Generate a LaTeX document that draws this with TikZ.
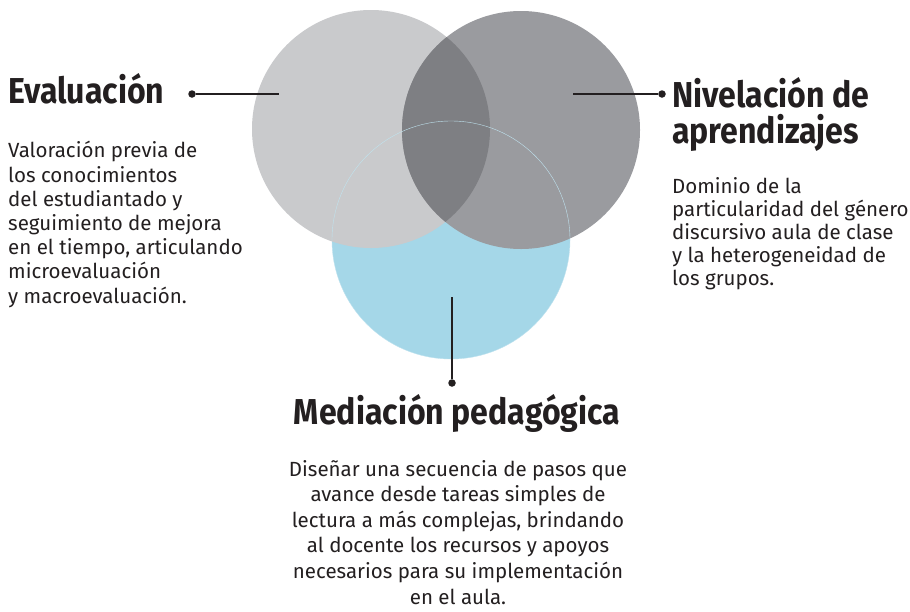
\documentclass[tikz,border=0pt]{standalone}
\usepackage{fontspec}
\setmainfont{Fira Sans}
\newfontfamily\headfont{Fira Sans}[FakeStretch=0.89]
\usepackage{tikz}
\usetikzlibrary{positioning}
\definecolor{lightgr}{HTML}{C9CACC}
\definecolor{midgr}{HTML}{9A9B9F}
\definecolor{darkgr}{HTML}{7E7F83}
\definecolor{skyb}{HTML}{A5D7E8}
\definecolor{ink}{HTML}{231F20}

\begin{document}
\begin{tikzpicture}[x=1pt,y=-1pt,
  head/.style={font=\headfont\bfseries\fontsize{36}{36}\selectfont,text=ink,inner sep=0pt},
  body/.style={font=\fontsize{20.5}{24.2}\selectfont,text=ink,inner sep=0pt},
  pin/.style={ink,line width=1.4pt},
  pindot/.style={circle,fill=ink,inner sep=0pt,minimum size=7.5pt}]
\fill[white] (0,0) rectangle (910,611);
\useasboundingbox (0,0) rectangle (910,611);
\def\rr{119}
% the three circles, grey ones on top of the blue one
\fill[skyb] (451,240) circle (\rr);
\fill[lightgr] (371,129) circle (\rr);
\fill[midgr] (521,130) circle (\rr);
\begin{scope}
  \clip (371,129) circle (\rr);
  \fill[darkgr] (521,130) circle (\rr);
\end{scope}
\draw[skyb!70!white,line width=0.4pt] (451,240) circle (\rr);
% pins
\node[pindot] (evaldot) at (192,94) {};
\coordinate (evalend) at (279,94);
\draw[pin] (evaldot) -- (evalend);
\node[pindot] (nivdot) at (662,94) {};
\coordinate (nivend) at (573,94);
\draw[pin] (nivend) -- (nivdot);
\node[pindot] (meddot) at (452,383) {};
\coordinate (medend) at (452,297);
\draw[pin] (medend) -- (meddot);
% titles (base = last line)
\node[head,anchor=base west] (evaltit) at (8,103) {Evaluación};
\node[head,anchor=base west,align=left] (nivtit) at (672,143) {Nivelación de\\aprendizajes};
\node[head,anchor=base] (medtit) at (457,424) {Mediación pedagógica};
% texts
\node[body,anchor=base west,align=left] (evaltxt) at (8,303) {Valoración previa de\\los conocimientos\\del estudiantado y\\seguimiento de mejora\\en el tiempo, articulando\\microevaluación\\y macroevaluación.};
\node[body,anchor=base west,align=left,font=\fontsize{20.5}{23}\selectfont] (nivtxt) at (672,285) {Dominio de la\\particularidad del género\\discursivo aula de clase\\y la heterogeneidad de\\los grupos.};
\node[body,anchor=base,align=center,font=\fontsize{20.5}{25.6}\selectfont] (medtxt) at (458,604) {Diseñar una secuencia de pasos que\\avance desde tareas simples de\\lectura a más complejas, brindando\\al docente los recursos y apoyos\\necesarios para su implementación\\en el aula.};
\end{tikzpicture}
\end{document}
